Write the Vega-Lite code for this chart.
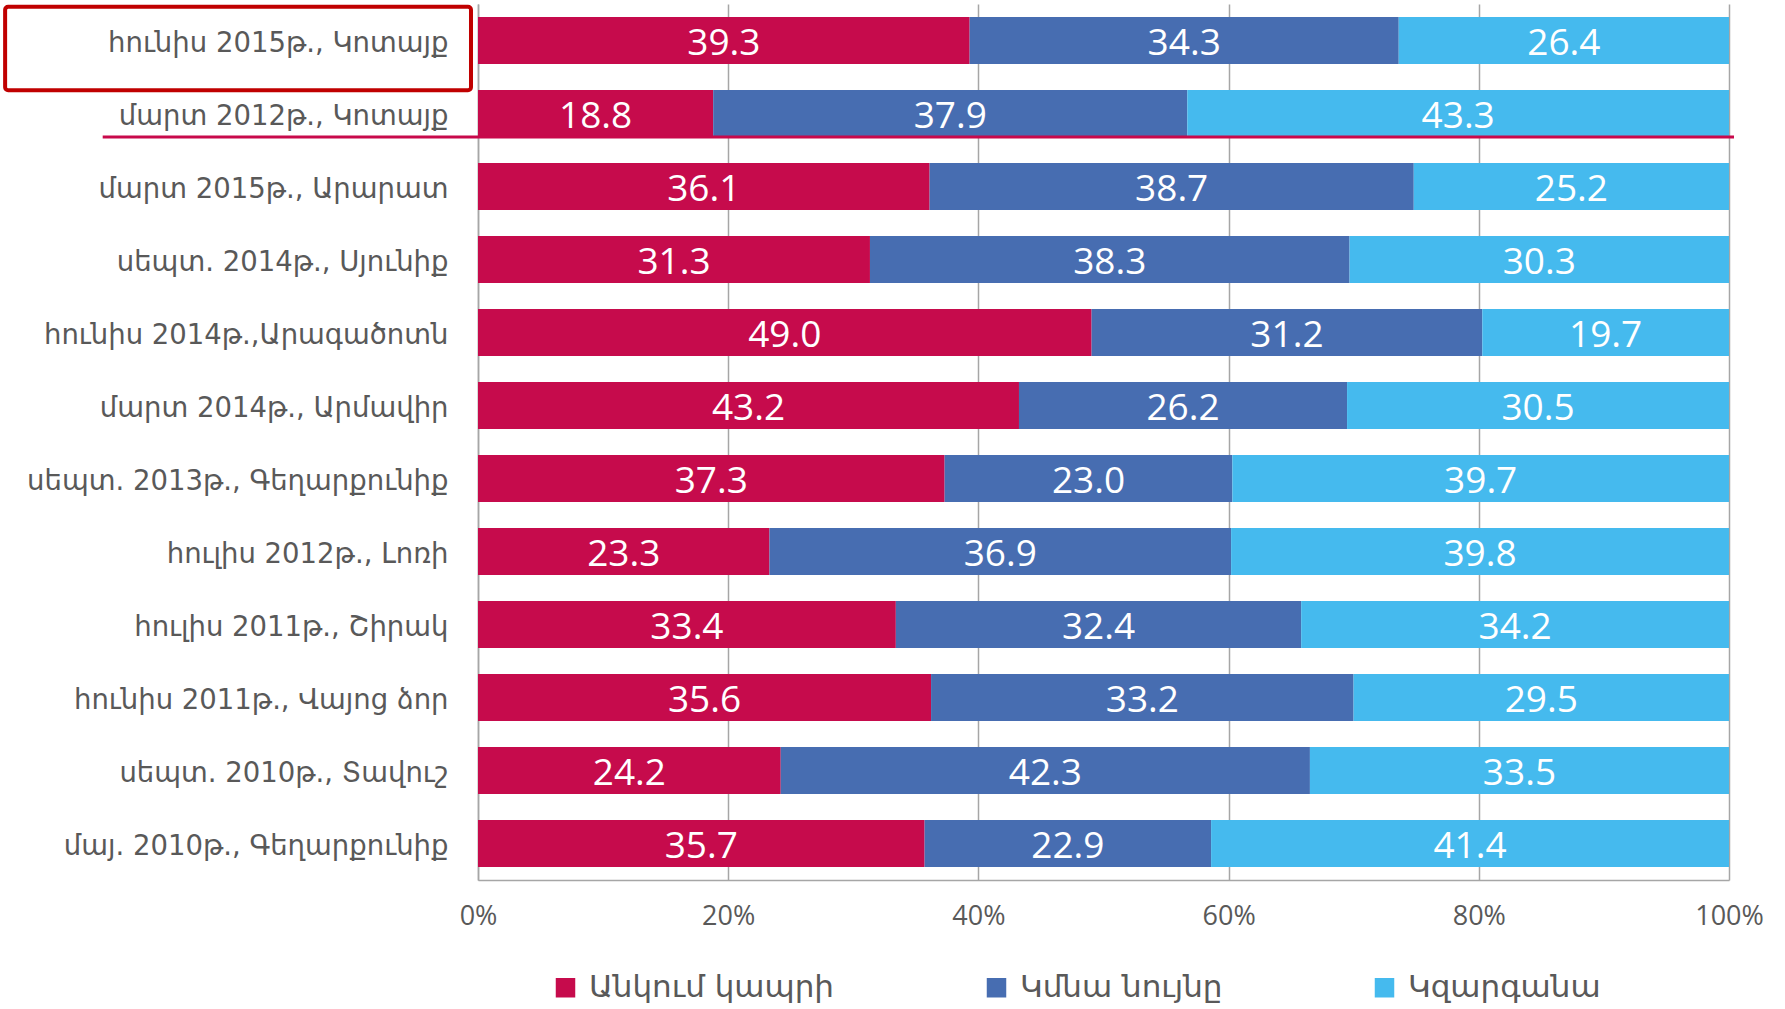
{
  "$schema": "https://vega.github.io/schema/vega-lite/v6.json",
  "width": 1251,
  "height": 876,
  "autosize": "none",
  "padding": {"left": 478, "top": 4, "right": 56, "bottom": 129},
  "background": "white",
  "config": {"view": {"stroke": null}},
  "datasets": {
    "bars": [
      {"row": "հունիս 2015թ., Կոտայք", "cat": "Անկում կապրի", "o": 1, "v": 39.3},
      {"row": "հունիս 2015թ., Կոտայք", "cat": "Կմնա նույնը", "o": 2, "v": 34.3},
      {"row": "հունիս 2015թ., Կոտայք", "cat": "Կզարգանա", "o": 3, "v": 26.4},
      {"row": "մարտ 2012թ., Կոտայք", "cat": "Անկում կապրի", "o": 1, "v": 18.8},
      {"row": "մարտ 2012թ., Կոտայք", "cat": "Կմնա նույնը", "o": 2, "v": 37.9},
      {"row": "մարտ 2012թ., Կոտայք", "cat": "Կզարգանա", "o": 3, "v": 43.3},
      {"row": "մարտ 2015թ., Արարատ", "cat": "Անկում կապրի", "o": 1, "v": 36.1},
      {"row": "մարտ 2015թ., Արարատ", "cat": "Կմնա նույնը", "o": 2, "v": 38.7},
      {"row": "մարտ 2015թ., Արարատ", "cat": "Կզարգանա", "o": 3, "v": 25.2},
      {"row": "սեպտ. 2014թ., Սյունիք", "cat": "Անկում կապրի", "o": 1, "v": 31.3},
      {"row": "սեպտ. 2014թ., Սյունիք", "cat": "Կմնա նույնը", "o": 2, "v": 38.3},
      {"row": "սեպտ. 2014թ., Սյունիք", "cat": "Կզարգանա", "o": 3, "v": 30.3},
      {"row": "հունիս 2014թ.,Արագածոտն", "cat": "Անկում կապրի", "o": 1, "v": 49.0},
      {"row": "հունիս 2014թ.,Արագածոտն", "cat": "Կմնա նույնը", "o": 2, "v": 31.2},
      {"row": "հունիս 2014թ.,Արագածոտն", "cat": "Կզարգանա", "o": 3, "v": 19.7},
      {"row": "մարտ 2014թ., Արմավիր", "cat": "Անկում կապրի", "o": 1, "v": 43.2},
      {"row": "մարտ 2014թ., Արմավիր", "cat": "Կմնա նույնը", "o": 2, "v": 26.2},
      {"row": "մարտ 2014թ., Արմավիր", "cat": "Կզարգանա", "o": 3, "v": 30.5},
      {"row": "սեպտ. 2013թ., Գեղարքունիք", "cat": "Անկում կապրի", "o": 1, "v": 37.3},
      {"row": "սեպտ. 2013թ., Գեղարքունիք", "cat": "Կմնա նույնը", "o": 2, "v": 23.0},
      {"row": "սեպտ. 2013թ., Գեղարքունիք", "cat": "Կզարգանա", "o": 3, "v": 39.7},
      {"row": "հուլիս 2012թ., Լոռի", "cat": "Անկում կապրի", "o": 1, "v": 23.3},
      {"row": "հուլիս 2012թ., Լոռի", "cat": "Կմնա նույնը", "o": 2, "v": 36.9},
      {"row": "հուլիս 2012թ., Լոռի", "cat": "Կզարգանա", "o": 3, "v": 39.8},
      {"row": "հուլիս 2011թ., Շիրակ", "cat": "Անկում կապրի", "o": 1, "v": 33.4},
      {"row": "հուլիս 2011թ., Շիրակ", "cat": "Կմնա նույնը", "o": 2, "v": 32.4},
      {"row": "հուլիս 2011թ., Շիրակ", "cat": "Կզարգանա", "o": 3, "v": 34.2},
      {"row": "հունիս 2011թ., Վայոց ձոր", "cat": "Անկում կապրի", "o": 1, "v": 35.6},
      {"row": "հունիս 2011թ., Վայոց ձոր", "cat": "Կմնա նույնը", "o": 2, "v": 33.2},
      {"row": "հունիս 2011թ., Վայոց ձոր", "cat": "Կզարգանա", "o": 3, "v": 29.5},
      {"row": "սեպտ. 2010թ., Տավուշ", "cat": "Անկում կապրի", "o": 1, "v": 24.2},
      {"row": "սեպտ. 2010թ., Տավուշ", "cat": "Կմնա նույնը", "o": 2, "v": 42.3},
      {"row": "սեպտ. 2010թ., Տավուշ", "cat": "Կզարգանա", "o": 3, "v": 33.5},
      {"row": "մայ. 2010թ., Գեղարքունիք", "cat": "Անկում կապրի", "o": 1, "v": 35.7},
      {"row": "մայ. 2010թ., Գեղարքունիք", "cat": "Կմնա նույնը", "o": 2, "v": 22.9},
      {"row": "մայ. 2010թ., Գեղարքունիք", "cat": "Կզարգանա", "o": 3, "v": 41.4}
    ],
    "underline": [
      {"row": "մարտ 2012թ., Կոտայք", "x1": -0.3, "x2": 1.004}
    ],
    "box": [
      {"row": "հունիս 2015թ., Կոտայք", "x1": -0.378, "x2": -0.0056}
    ]
  },
  "encoding": {
    "y": {
      "field": "row",
      "type": "nominal",
      "scale": {
        "domain": [
          "հունիս 2015թ., Կոտայք",
          "մարտ 2012թ., Կոտայք",
          "մարտ 2015թ., Արարատ",
          "սեպտ. 2014թ., Սյունիք",
          "հունիս 2014թ.,Արագածոտն",
          "մարտ 2014թ., Արմավիր",
          "սեպտ. 2013թ., Գեղարքունիք",
          "հուլիս 2012թ., Լոռի",
          "հուլիս 2011թ., Շիրակ",
          "հունիս 2011թ., Վայոց ձոր",
          "սեպտ. 2010թ., Տավուշ",
          "մայ. 2010թ., Գեղարքունիք"
        ],
        "paddingInner": 0.356,
        "paddingOuter": 0.178
      },
      "axis": {
        "title": null,
        "ticks": false,
        "labelFont": "DejaVu Sans",
        "labelFontSize": 27.5,
        "labelColor": "#595959",
        "labelPadding": 30,
        "labelOffset": 3,
        "labelLimit": 600,
        "domainColor": "#a6a6a6",
        "domainWidth": 1.5
      }
    }
  },
  "layer": [
    {
      "data": {"name": "bars"},
      "mark": {"type": "bar"},
      "encoding": {
        "x": {
          "field": "v",
          "type": "quantitative",
          "stack": "normalize",
          "scale": {"domain": [0, 1], "nice": false},
          "axis": {
            "title": null,
            "values": [0, 0.2, 0.4, 0.6, 0.8, 1],
            "format": ".0%",
            "ticks": false,
            "labelFlush": false,
            "labelFont": "Open Sans",
            "labelFontSize": 27,
            "labelColor": "#595959",
            "labelPadding": 23,
            "domainColor": "#a6a6a6",
            "domainWidth": 1.5,
            "grid": true,
            "gridColor": "#a6a6a6",
            "gridWidth": 1.5
          }
        },
        "color": {
          "field": "cat",
          "type": "nominal",
          "scale": {
            "domain": ["Անկում կապրի", "Կմնա նույնը", "Կզարգանա"],
            "range": ["#C60B4C", "#476DB1", "#45BAEE"]
          },
          "legend": {
            "title": null,
            "orient": "none",
            "direction": "horizontal",
            "legendX": 72,
            "legendY": 968,
            "symbolType": "square",
            "symbolSize": 380,
            "symbolStrokeWidth": 0,
            "labelFont": "DejaVu Sans",
            "labelFontSize": 31,
            "labelColor": "#595959",
            "labelOffset": 8,
            "labelLimit": 600,
            "columnPadding": 146
          }
        },
        "order": {"field": "o", "type": "quantitative"}
      }
    },
    {
      "data": {"name": "bars"},
      "transform": [
        {"stack": "v", "groupby": ["row"], "sort": [{"field": "o", "order": "ascending"}], "offset": "normalize", "as": ["s0", "s1"]},
        {"calculate": "(datum.s0 + datum.s1) / 2", "as": "mid"}
      ],
      "mark": {"type": "text", "color": "white", "font": "Open Sans", "fontSize": 37, "baseline": "middle", "align": "center", "dy": 3},
      "encoding": {
        "x": {"field": "mid", "type": "quantitative"},
        "text": {"field": "v", "type": "quantitative", "format": ".1f"}
      }
    },
    {
      "data": {"name": "underline"},
      "mark": {"type": "rule", "color": "#C8094B", "strokeWidth": 3},
      "encoding": {
        "y": {"field": "row", "type": "nominal", "bandPosition": 1},
        "x": {"field": "x1", "type": "quantitative"},
        "x2": {"field": "x2"}
      }
    },
    {
      "data": {"name": "box"},
      "mark": {"type": "rect", "fill": null, "fillOpacity": 0, "stroke": "#C00000", "strokeWidth": 4, "cornerRadius": 3, "height": {"band": 1.772}, "yOffset": 8},
      "encoding": {
        "x": {"field": "x1", "type": "quantitative"},
        "x2": {"field": "x2"}
      }
    }
  ]
}
